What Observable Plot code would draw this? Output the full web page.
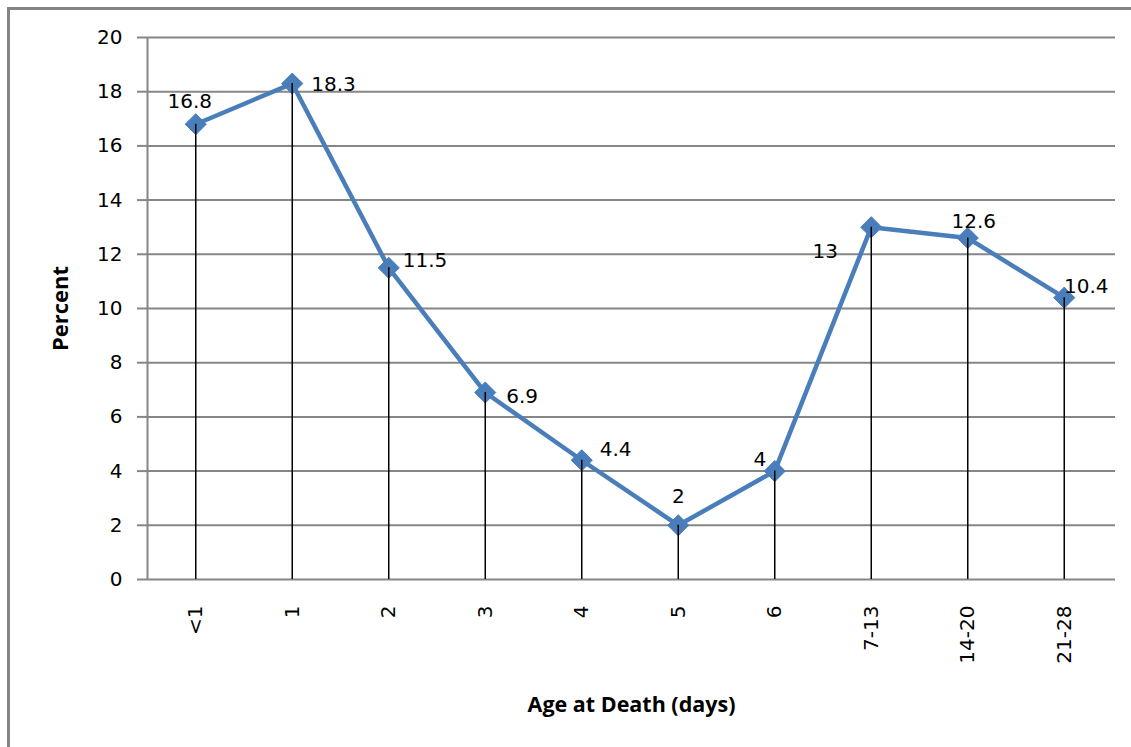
<!DOCTYPE html>
<html>
<head>
<meta charset="utf-8">
<script src="https://cdn.jsdelivr.net/npm/d3@7"></script>
<script src="https://cdn.jsdelivr.net/npm/@observablehq/plot@0.6"></script>
<style>
  html, body { margin: 0; padding: 0; background: #fff; overflow: hidden; }
  #wrap { position: relative; width: 1131px; height: 747px; }
  #border { position: absolute; left: 7px; top: 7px; width: 1200px; height: 800px;
            border-left: 3px solid #858585; border-top: 3px solid #858585; pointer-events: none; }
</style>
</head>
<body>
<div id="wrap"><div id="border"></div></div>
<script>
// Data
const ages = ["<1", "1", "2", "3", "4", "5", "6", "7-13", "14-20", "21-28"];
const percents = [16.8, 18.3, 11.5, 6.9, 4.4, 2, 4, 13, 12.6, 10.4];
const yTicks = [0, 2, 4, 6, 8, 10, 12, 14, 16, 18, 20];

// Label placement (layout only): [dx, dy, anchor]
const labelPlacement = {
  "<1": [-6, -23, "middle"],
  "1": [19, 1, "start"],
  "2": [14, -7, "start"],
  "3": [21, 4, "start"],
  "4": [18, -11, "start"],
  "5": [0, -29, "middle"],
  "6": [-15, -12, "middle"],
  "7-13": [-46, 24, "middle"],
  "14-20": [6, -16, "middle"],
  "21-28": [22, -11, "middle"]
};

const data = ages.map((a, i) => ({age: a, pct: percents[i]}));

const blue = "#4A7EBB";
const numFont = "'DejaVu Sans', Verdana, sans-serif";
const titleFont = "'Open Sans', Lato, sans-serif";

const labelMarks = data.map(d => {
  const [dx, dy, anchor] = labelPlacement[d.age];
  return Plot.text([d], {
    x: "age", y: "pct", text: d => String(d.pct),
    dx, dy, textAnchor: anchor, fill: "#000",
    fontSize: 20, fontFamily: numFont
  });
});

const chart = Plot.plot({
  width: 1131,
  height: 747,
  marginLeft: 147,
  marginRight: 16,
  marginTop: 37,
  marginBottom: 168,
  style: {fontFamily: numFont, fontSize: "20px", background: "transparent", overflow: "visible"},
  x: {type: "point", domain: ages, padding: 0.5, round: false, insetRight: 3},
  y: {domain: [0, 20]},
  marks: [
    Plot.ruleY(yTicks, {stroke: "#868686", strokeWidth: 2, strokeOpacity: 1}),
    Plot.axisY({ticks: yTicks, tickSize: 10, tickPadding: 15, stroke: "#868686", strokeWidth: 2,
      strokeOpacity: 1, fontSize: 20, fontFamily: numFont, label: null, fill: "#000"}),
    Plot.ruleX([0], {x: () => ages[0], y1: 0, y2: 20, dx: -48.25, stroke: "#868686", strokeWidth: 2}),
    Plot.axisX({tickSize: 0, tickPadding: 26, tickRotate: -90, fontSize: 20, fontFamily: numFont,
      label: null, fill: "#000"}),
    Plot.line(data, {x: "age", y: "pct", stroke: blue, strokeWidth: 4.5}),
    Plot.dot(data, {x: "age", y: "pct", symbol: "diamond2", r: 9.5, fill: blue, stroke: blue, strokeWidth: 1}),
    Plot.ruleX(data, {x: "age", y1: 0, y2: "pct", stroke: "#000", strokeWidth: 1.5}),
    ...labelMarks,
    Plot.text(["Percent"], {frameAnchor: "left", dx: -87, rotate: -90, textAnchor: "middle",
      lineAnchor: "middle", fontWeight: "bold", fontSize: 22, fontFamily: titleFont, fill: "#000"}),
    Plot.text(["Age at Death (days)"], {frameAnchor: "bottom", dy: 126, textAnchor: "middle",
      lineAnchor: "middle", fontWeight: "bold", fontSize: 21.5, fontFamily: titleFont, fill: "#000"})
  ]
});

document.getElementById("wrap").prepend(chart);
</script>
</body>
</html>
